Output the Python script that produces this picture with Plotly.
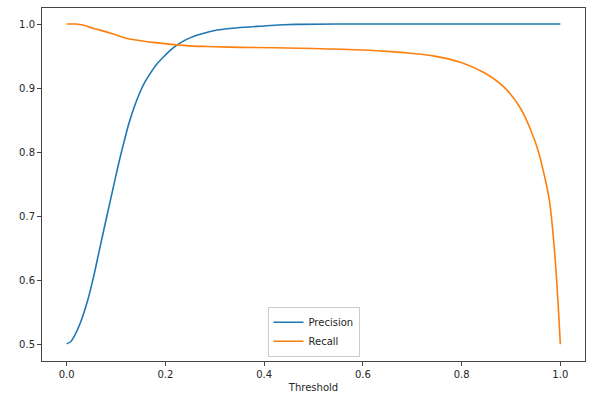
import plotly.graph_objects as go

# Precision curve
prec_thr = [0.0, 0.008, 0.015, 0.028, 0.042, 0.0553, 0.0655, 0.0757, 0.0858, 0.096, 0.106, 0.116,
            0.126, 0.137, 0.147, 0.158, 0.170, 0.182, 0.194, 0.207, 0.221, 0.24, 0.258,
            0.28, 0.30, 0.33, 0.36, 0.40, 0.44, 0.47, 0.55, 0.7, 0.85, 1.0]
precision = [0.502, 0.505, 0.513, 0.535, 0.568, 0.609, 0.645, 0.681, 0.716, 0.751, 0.785, 0.816,
             0.845, 0.871, 0.891, 0.909, 0.924, 0.937, 0.947, 0.957, 0.966, 0.975, 0.981,
             0.986, 0.990, 0.993, 0.995, 0.997, 0.999, 0.9995, 1.0, 1.0, 1.0, 1.0]

# Recall curve
rec_thr = [0.0, 0.018, 0.035, 0.055, 0.075, 0.096, 0.12, 0.15, 0.18, 0.2175, 0.25, 0.285,
           0.353, 0.42, 0.50, 0.603, 0.657, 0.697, 0.745, 0.799, 0.846, 0.88, 0.90, 0.92,
           0.94, 0.955, 0.968, 0.978, 0.988, 0.995, 1.0]
recall = [1.0, 1.0, 0.998, 0.993, 0.989, 0.984, 0.978, 0.974, 0.971, 0.968, 0.966, 0.965,
          0.9637, 0.963, 0.962, 0.9595, 0.957, 0.9544, 0.950, 0.940, 0.924, 0.906, 0.890,
          0.868, 0.835, 0.803, 0.763, 0.724, 0.649, 0.571, 0.501]

x_ticks = [0.0, 0.2, 0.4, 0.6, 0.8, 1.0]
y_ticks = [0.5, 0.6, 0.7, 0.8, 0.9, 1.0]

fig = go.Figure()
fig.add_trace(go.Scatter(x=prec_thr, y=precision, mode="lines", name="Precision",
                         line=dict(color="#1f77b4", width=1.6, shape="spline", smoothing=1.0)))
fig.add_trace(go.Scatter(x=rec_thr, y=recall, mode="lines", name="Recall",
                         line=dict(color="#ff7f0e", width=1.6, shape="spline", smoothing=1.0)))

axis_common = dict(showgrid=False, zeroline=False, showline=True, linecolor="#444",
                   linewidth=1, mirror=True, ticks="outside", ticklen=4, tickcolor="#444",
                   automargin=False,
                   tickfont=dict(family="DejaVu Sans", size=10, color="#262626"))

fig.update_layout(
    width=597, height=394,
    margin=dict(l=42, r=12, t=8, b=33),
    paper_bgcolor="white", plot_bgcolor="white",
    font=dict(family="DejaVu Sans", size=10, color="#262626"),
    xaxis=dict(range=[-0.05, 1.05], tickvals=x_ticks, tickformat=".1f",
               title=dict(text="Threshold", standoff=4, font=dict(size=10)), **axis_common),
    yaxis=dict(range=[0.475, 1.025], tickvals=y_ticks, tickformat=".1f", **axis_common),
    legend=dict(x=0.5, xanchor="center", y=0.012, yanchor="bottom",
                bgcolor="rgba(255,255,255,0.8)", bordercolor="#cccccc", borderwidth=1,
                font=dict(size=10), itemwidth=30, tracegroupgap=0),
    showlegend=True,
)

fig.write_html("out.html")
